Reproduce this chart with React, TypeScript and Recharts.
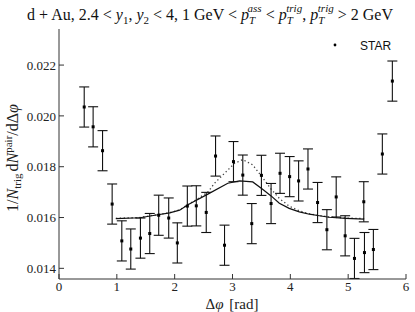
import React from 'react';
import { ComposedChart, Scatter, Line, XAxis, YAxis, ErrorBar } from 'recharts';

// STAR data points: delta phi [rad], per-trigger yield, error
const dphi = [0.436, 0.59, 0.753, 0.919, 1.086, 1.241, 1.408, 1.569, 1.724, 1.897, 2.046, 2.219, 2.374, 2.546, 2.707, 2.862, 3.017, 3.178, 3.333, 3.5, 3.667, 3.822, 3.988, 4.143, 4.305, 4.471, 4.632, 4.793, 4.948, 5.109, 5.27, 5.282, 5.436, 5.591, 5.764];
const yieldVals = [0.02035, 0.01957, 0.01863, 0.01653, 0.01508, 0.01476, 0.01519, 0.01537, 0.01609, 0.01598, 0.015, 0.01645, 0.01646, 0.0162, 0.01842, 0.01491, 0.0182, 0.01767, 0.01576, 0.01766, 0.01655, 0.01774, 0.01761, 0.01744, 0.01791, 0.01659, 0.01552, 0.01681, 0.01528, 0.01439, 0.01662, 0.01462, 0.01474, 0.0185, 0.02137];
const yieldErr = [0.00079, 0.00079, 0.00079, 0.00079, 0.00079, 0.00079, 0.00079, 0.00079, 0.00079, 0.00079, 0.00079, 0.00079, 0.00079, 0.00079, 0.00079, 0.00079, 0.00079, 0.00079, 0.00079, 0.00079, 0.00079, 0.00079, 0.00079, 0.00079, 0.00079, 0.00079, 0.00079, 0.00079, 0.00079, 0.00079, 0.00079, 0.00079, 0.00079, 0.00079, 0.00079];

// solid curve
const solidX = [0.983, 1.397, 1.684, 1.914, 2.086, 2.229, 2.574, 2.919, 3.121, 3.35, 3.52, 3.667, 3.81, 3.98, 4.155, 4.33, 4.5, 4.67, 4.96, 5.276];
const solidY = [0.01596, 0.01599, 0.0161, 0.01618, 0.01629, 0.0165, 0.01692, 0.01735, 0.01744, 0.0174, 0.01711, 0.01685, 0.01656, 0.01636, 0.01622, 0.01613, 0.01607, 0.01601, 0.01597, 0.01594];

// dotted curve
const dotX = [0.983, 1.397, 1.684, 1.914, 2.086, 2.229, 2.345, 2.574, 2.69, 3.034, 3.178, 3.35, 3.52, 3.667, 3.81, 3.98, 4.155, 4.33, 4.5, 4.67, 4.96, 5.276];
const dotY = [0.01597, 0.016, 0.01611, 0.01619, 0.0163, 0.01651, 0.01666, 0.017, 0.01735, 0.01813, 0.01828, 0.01807, 0.01757, 0.01712, 0.01675, 0.01645, 0.01626, 0.01615, 0.01608, 0.01602, 0.01598, 0.01596];

const xTicks = [0, 1, 2, 3, 4, 5, 6];
const yTicks = [0.014, 0.016, 0.018, 0.02, 0.022];
const xDomain = [0, 6];
const yDomain = [0.01358, 0.02342];

const points = dphi.map((x, i) => ({ x, y: yieldVals[i], err: yieldErr[i] }));
const solid = solidX.map((x, i) => ({ x, y: solidY[i] }));
const dotted = dotX.map((x, i) => ({ x, y: dotY[i] }));

const SERIF = '"Liberation Serif", "DejaVu Serif", serif';
const tickFont = { fontFamily: SERIF, fontSize: 13, fill: '#222' };

const Marker = (props: any) => {
  const { cx, cy } = props;
  if (cx == null || cy == null) return null;
  return <rect x={cx - 1.5} y={cy - 1.5} width={3} height={3} fill="#000" />;
};

export default function App() {
  return (
    <div style={{ position: 'absolute', left: 0, top: 0, width: 415, height: 312, background: '#fff' }}>
      <ComposedChart width={415} height={312} margin={{ top: 29, right: 9, bottom: 0, left: 0 }}>
        <XAxis xAxisId="b" type="number" dataKey="x" domain={xDomain} ticks={xTicks} interval={0}
          orientation="bottom" height={33} tickSize={-5} tickMargin={8} stroke="#333" tick={tickFont}
          allowDataOverflow />
        <XAxis xAxisId="t" type="number" dataKey="x" domain={xDomain} ticks={xTicks} interval={0}
          orientation="top" height={0} tickSize={-5} tick={false} stroke="#333" allowDataOverflow />
        <YAxis yAxisId="l" type="number" dataKey="y" domain={yDomain} ticks={yTicks} interval={0}
          width={59} tickSize={-5} tickMargin={8} stroke="#333" tick={tickFont}
          tickFormatter={(v: number) => v.toFixed(3)} allowDataOverflow />
        <YAxis yAxisId="r" type="number" dataKey="y" domain={yDomain} ticks={yTicks} interval={0}
          orientation="right" width={0} tickSize={-5} tick={false} stroke="#333" allowDataOverflow />
        <Line xAxisId="b" yAxisId="l" data={dotted} dataKey="y" type="linear" dot={false}
          stroke="#444" strokeWidth={1.3} strokeDasharray="1.3 2.6" isAnimationActive={false} />
        <Line xAxisId="b" yAxisId="l" data={solid} dataKey="y" type="linear" dot={false}
          stroke="#111" strokeWidth={1.2} isAnimationActive={false} />
        <Scatter xAxisId="b" yAxisId="l" data={points} dataKey="y" shape={Marker} isAnimationActive={false}>
          <ErrorBar dataKey="err" direction="y" width={5} stroke="#111" strokeWidth={1.1} />
        </Scatter>
      </ComposedChart>
      <svg width={415} height={312} style={{ position: 'absolute', left: 0, top: 0, pointerEvents: 'none' }}>
        <text x={210} y={20} textAnchor="middle" fontFamily={SERIF} fontSize={16} fill="#111">
          <tspan>d + Au, 2.4 &lt; </tspan>
          <tspan fontStyle="italic">y</tspan>
          <tspan fontSize={11} dy={4}>1</tspan>
          <tspan dy={-4}>, </tspan>
          <tspan fontStyle="italic">y</tspan>
          <tspan fontSize={11} dy={4}>2</tspan>
          <tspan dy={-4}> &lt; 4, 1 GeV &lt; </tspan>
          <tspan fontStyle="italic">p</tspan>
          <tspan fontSize={11} fontStyle="italic" dy={4}>T</tspan>
          <tspan fontSize={11} fontStyle="italic" dx={-6.5} dy={-12}>ass</tspan>
          <tspan dy={8}> &lt; </tspan>
          <tspan fontStyle="italic">p</tspan>
          <tspan fontSize={11} fontStyle="italic" dy={4}>T</tspan>
          <tspan fontSize={11} fontStyle="italic" dx={-6.5} dy={-12}>trig</tspan>
          <tspan dy={8}>, </tspan>
          <tspan fontStyle="italic">p</tspan>
          <tspan fontSize={11} fontStyle="italic" dy={4}>T</tspan>
          <tspan fontSize={11} fontStyle="italic" dx={-6.5} dy={-12}>trig</tspan>
          <tspan dy={8}> &gt; 2 GeV</tspan>
        </text>
        <text transform="translate(18,158) rotate(-90)" textAnchor="middle" fontFamily={SERIF} fontSize={16} fill="#222">
          <tspan>1/</tspan>
          <tspan fontStyle="italic">N</tspan>
          <tspan fontSize={11} dy={3}>trig</tspan>
          <tspan dy={-3} dx={2}>d</tspan>
          <tspan fontStyle="italic">N</tspan>
          <tspan fontSize={11} dy={-6}>pair</tspan>
          <tspan dy={6}>/dΔ</tspan>
          <tspan fontStyle="italic">φ</tspan>
        </text>
        <text x={232} y={309} textAnchor="middle" fontFamily={SERIF} fontSize={15} fill="#222">
          <tspan>Δ</tspan>
          <tspan fontStyle="italic">φ</tspan>
          <tspan dx={2}> [rad]</tspan>
        </text>
        <circle cx={335} cy={45} r={1.4} fill="#000" />
        <text x={360} y={49.5} fontFamily='"Liberation Sans", Arial, sans-serif' fontSize={12} fill="#111">STAR</text>
      </svg>
    </div>
  );
}
